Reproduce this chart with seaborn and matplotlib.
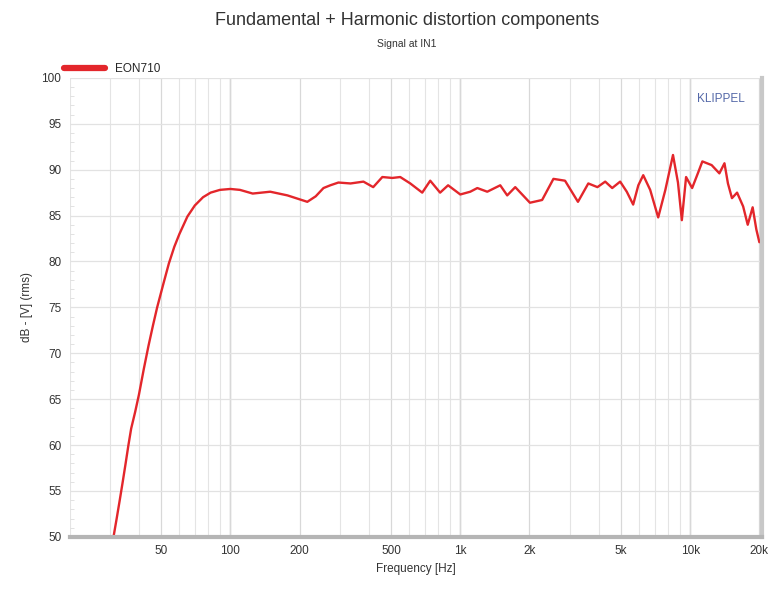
import numpy as np
import pandas as pd
import seaborn as sns
from matplotlib import pyplot as plt
from matplotlib.ticker import FixedLocator, NullFormatter, MultipleLocator

# values
freq = [31, 32, 33, 34, 35, 36, 37, 38.5, 40, 42, 44, 46, 48, 51, 54, 57, 60,
        65, 70, 76, 82, 90, 100, 110, 125, 149, 177, 216, 235, 254, 272, 295,
        333, 379, 418, 458, 506, 548, 606, 683, 740, 817, 885, 1000, 1105,
        1186, 1310, 1492, 1600, 1734, 2009, 2270, 2542, 2855, 3250, 3605,
        3950, 4270, 4580, 4960, 5300, 5650, 5950, 6250, 6700, 7260, 7800,
        8420, 8850, 9200, 9600, 10200, 10800, 11300, 12400, 13400, 14100,
        14600, 15200, 16000, 17000, 17800, 18700, 19400, 20000]
level = [50.0, 52.0, 54.0, 56.0, 58.0, 60.0, 61.8, 63.6, 65.5, 68.3, 70.8,
         73.0, 75.0, 77.5, 79.8, 81.6, 83.0, 84.9, 86.1, 87.0, 87.5, 87.8,
         87.9, 87.8, 87.4, 87.6, 87.2, 86.5, 87.1, 88.0, 88.3, 88.6, 88.5,
         88.7, 88.1, 89.2, 89.1, 89.2, 88.5, 87.5, 88.8, 87.5, 88.3, 87.3,
         87.6, 88.0, 87.6, 88.3, 87.2, 88.1, 86.4, 86.7, 89.0, 88.8, 86.5,
         88.5, 88.1, 88.7, 88.0, 88.7, 87.6, 86.2, 88.3, 89.4, 87.8, 84.8,
         87.8, 91.6, 88.6, 84.5, 89.2, 88.0, 89.6, 90.9, 90.5, 89.6, 90.7,
         88.5, 86.9, 87.5, 86.0, 84.0, 85.9, 83.5, 82.1]

xticks = [50, 100, 200, 500, 1000, 2000, 5000, 10000, 20000]
xlabels = ["50", "100", "200", "500", "1k", "2k", "5k", "10k", "20k"]
yticks = list(range(50, 101, 5))

df = pd.DataFrame({"Frequency": freq, "Level": level})

sns.set_style("white")
plt.rcParams["font.family"] = ["Liberation Sans", "DejaVu Sans"]

fig = plt.figure(figsize=(7.75, 5.9), dpi=100)
ax = fig.add_axes([0.090, 0.090, 0.893, 0.778])

sns.lineplot(data=df, x="Frequency", y="Level", ax=ax, color="#e3262b",
             linewidth=1.7, label="EON710", solid_joinstyle="round")

ax.set_xscale("log")
ax.set_xlim(20, 20500)
ax.set_ylim(50, 100)

# grid: all 1-2-..-9 lines per decade
minors = [m * 10 ** d for d in range(1, 5) for m in range(2, 10)
          if 20 <= m * 10 ** d <= 20000]
ax.xaxis.set_minor_locator(FixedLocator(minors))
ax.xaxis.set_minor_formatter(NullFormatter())
ax.set_xticks(xticks)
ax.set_xticklabels(xlabels)
ax.set_yticks(yticks)
ax.yaxis.set_minor_locator(MultipleLocator(1))

ax.grid(which="minor", axis="x", color="#e4e4e4", linewidth=0.8)
ax.grid(which="major", axis="x", color="#d8d8d8", linewidth=0.9)
for d in [100, 1000, 10000]:
    ax.axvline(d, color="#d0d0d0", linewidth=1.0, zorder=0)
ax.grid(which="major", axis="y", color="#e2e2e2", linewidth=0.9)

ax.tick_params(axis="both", which="major", length=0, labelsize=8.5,
               colors="#333333", pad=6)
ax.tick_params(axis="y", which="minor", direction="in", length=3,
               color="#dddddd", left=True)

for s in ["top", "left"]:
    ax.spines[s].set_visible(False)
ax.spines["bottom"].set_color("#b5b5b5")
ax.spines["bottom"].set_linewidth(3)
ax.spines["right"].set_color("#c8c8c8")
ax.spines["right"].set_linewidth(3)

ax.set_xlabel("Frequency [Hz]", fontsize=8.5, color="#333333", labelpad=4)
ax.set_ylabel("dB - [V] (rms)", fontsize=8.5, color="#333333", labelpad=6)

ax.legend(loc="lower left", bbox_to_anchor=(-0.015, 0.995), frameon=False,
          fontsize=8.5, handlelength=3.5, borderaxespad=0,
          handletextpad=0.8)
for h in ax.get_legend().get_lines():
    h.set_linewidth(4.5)

ax.text(0.975, 0.955, "KLIPPEL", transform=ax.transAxes, ha="right",
        va="center", fontsize=8.5, color="#5468a8")

fig.text(0.525, 0.966, "Fundamental + Harmonic distortion components",
         ha="center", va="center", fontsize=13, color="#333333")
fig.text(0.525, 0.925, "Signal at IN1", ha="center", va="center",
         fontsize=7.5, color="#333333")

plt.savefig("out.png", dpi=100)
